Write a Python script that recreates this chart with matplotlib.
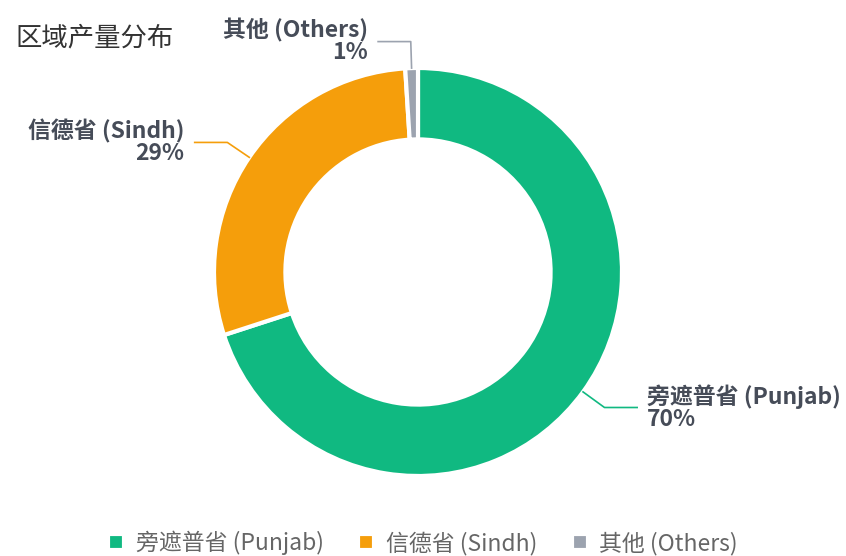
import matplotlib.pyplot as plt
import numpy as np

plt.rcParams['font.family'] = ['Noto Sans CJK SC', 'DejaVu Sans']

title = "区域产量分布"
regions = ["旁遮普省 (Punjab)", "信德省 (Sindh)", "其他 (Others)"]
shares = [70, 29, 1]
colors = ["#10b981", "#f59e0b", "#9ca3af"]

W, H = 846, 556
cx, cy, R = 418, 272, 204  # pixel centre / radius of the donut

fig = plt.figure(figsize=(W / 100, H / 100), dpi=100)
ax = fig.add_axes([0, 0, 1, 1])
ax.axis('off')

wedges, _ = ax.pie(shares, colors=colors, startangle=90, counterclock=False,
                   radius=1, wedgeprops=dict(width=0.35, edgecolor='white', linewidth=3))
ax.set_xlim(-cx / R, (W - cx) / R)
ax.set_ylim(-(H - cy) / R, cy / R)
ax.set_aspect('auto')

for w, name, s, c in zip(wedges, regions, shares, colors):
    ang = np.deg2rad((w.theta1 + w.theta2) / 2)
    x0, y0 = np.cos(ang), np.sin(ang)
    x1, y1 = 1.13 * x0, 1.13 * y0
    side = 1 if x0 > 0 else -1
    x2 = x1 + side * 0.16
    ax.plot([x0, x1, x2], [y0, y1, y1], color=c, lw=1.2)
    ax.text(x2 + side * 0.05, y1, f"{name}\n{s}%", ha='left' if side > 0 else 'right',
            va='center', fontsize=16.5, fontweight='bold', color='#464c58',
            linespacing=0.92, multialignment='right' if side < 0 else 'left')

fig.text(15 / W, 1 - 38 / H, title, fontsize=19, color='#333333', va='center', ha='left')

fig.legend(wedges, regions, loc='center', bbox_to_anchor=(0.5, 1 - 543 / H), ncol=3,
           frameon=False, fontsize=16.5, labelcolor='#666666', handlelength=0.7,
           handleheight=0.7, handletextpad=0.5, columnspacing=1.5)

fig.savefig("out.png", dpi=100)
